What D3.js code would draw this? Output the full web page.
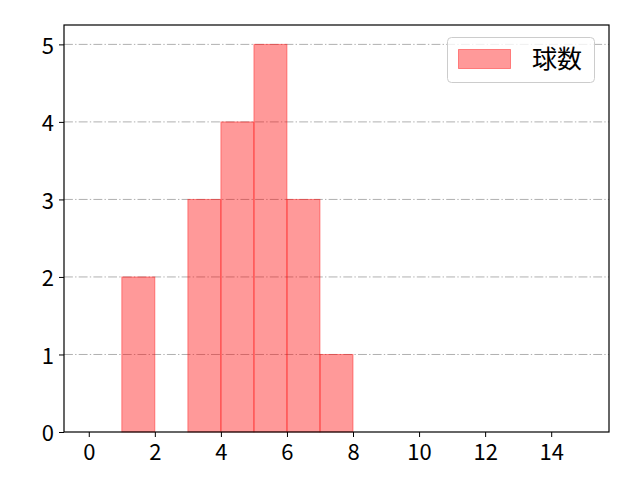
<!DOCTYPE html>
<html><head><meta charset="utf-8">
<script src="https://cdn.jsdelivr.net/npm/d3@7"></script>
<style>body{margin:0;background:#fff}svg{display:block}text{font-family:"Noto Sans CJK JP","Noto Sans",sans-serif}</style>
</head><body>
<script>
const binStarts = [1, 3, 4, 5, 6, 7];
const binEnds   = [2, 4, 5, 6, 7, 8];
const counts    = [2, 3, 4, 5, 3, 1];
const xTicks = [0, 2, 4, 6, 8, 10, 12, 14];
const yTicks = [0, 1, 2, 3, 4, 5];
const seriesName = "球数";

const W = 640, H = 480;
const L = 64, R = 609, T = 25, B = 432;
const svg = d3.select("body").append("svg").attr("width", W).attr("height", H);
const x = d3.scaleLinear().domain([-0.75, 15.75]).range([L, R]);
const y = d3.scaleLinear().domain([0, 5.25]).range([B, T]);

// grid
svg.append("g").selectAll("line").data(yTicks.filter(d => d > 0)).join("line")
  .attr("x1", L).attr("x2", R).attr("y1", d => y(d)).attr("y2", d => y(d))
  .attr("stroke", "#b0b0b0").attr("stroke-width", 1)
  .attr("stroke-dasharray", "8.9,2.2,1.4,2.2");

// bars
const bars = binStarts.map((s, i) => ({s, e: binEnds[i], c: counts[i]}));
svg.append("g").selectAll("rect").data(bars).join("rect")
  .attr("x", d => x(d.s)).attr("width", d => x(d.e) - x(d.s))
  .attr("y", d => y(d.c)).attr("height", d => y(0) - y(d.c))
  .attr("fill", "rgba(255,0,0,0.4)").attr("stroke", "rgba(255,0,0,0.4)").attr("stroke-width", 1);

// axes
const xAxis = d3.axisBottom(x).tickValues(xTicks).tickSize(5).tickPadding(7).tickFormat(d3.format("d"));
const yAxis = d3.axisLeft(y).tickValues(yTicks).tickSize(5).tickPadding(5).tickFormat(d3.format("d"));
const gx = svg.append("g").attr("transform", `translate(0,${B})`).call(xAxis);
const gy = svg.append("g").attr("transform", `translate(${L},0)`).call(yAxis);
[gx, gy].forEach(g => {
  g.select(".domain").remove();
  g.selectAll("line").attr("stroke", "#000").attr("stroke-width", 1);
  g.selectAll("text").attr("font-size", 22).attr("fill", "#000")
    .attr("font-family", '"Noto Sans","Noto Sans CJK JP",sans-serif');
});
gy.selectAll("text").attr("dy", "0.40em");
// frame
svg.append("rect").attr("x", L).attr("y", T).attr("width", R - L).attr("height", B - T)
  .attr("fill", "none").attr("stroke", "#000").attr("stroke-width", 1.2);

// legend
const lg = svg.append("g");
lg.append("rect").attr("x", 447.5).attr("y", 37.5).attr("width", 147).attr("height", 45).attr("rx", 4)
  .attr("fill", "rgba(255,255,255,0.8)").attr("stroke", "#cccccc").attr("stroke-width", 1);
lg.append("rect").attr("x", 458.5).attr("y", 49.5).attr("width", 52).attr("height", 19)
  .attr("fill", "rgba(255,0,0,0.4)").attr("stroke", "rgba(255,0,0,0.4)").attr("stroke-width", 1);
lg.append("text").attr("x", 532).attr("y", 59).attr("dy", "0.35em").attr("font-size", 25)
  .attr("fill", "#000").text(seriesName);
</script>
</body></html>
